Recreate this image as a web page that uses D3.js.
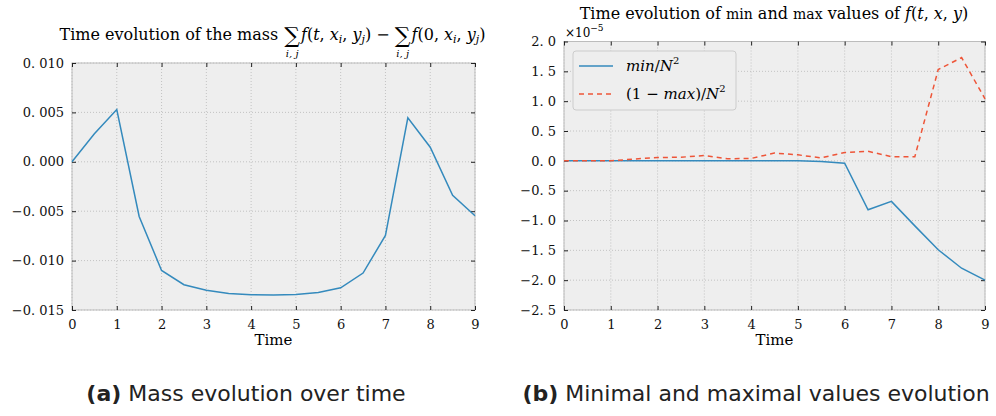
<!DOCTYPE html>
<html>
<head>
<meta charset="utf-8">
<script src="https://cdn.jsdelivr.net/npm/d3@7"></script>
<style>
  body { margin: 0; background: #fff; }
  text { font-family: "DejaVu Serif", serif; white-space: pre; }
</style>
</head>
<body>
<div id="chart"></div>
<script>
// Data
const times = [0, 0.5, 1, 1.5, 2, 2.5, 3, 3.5, 4, 4.5, 5, 5.5, 6, 6.5, 7, 7.5, 8, 8.5, 9];
const massDiff = [0, 0.00283, 0.00529, -0.00553, -0.0110, -0.01244, -0.0130, -0.01332, -0.01345, -0.01349,
    -0.01342, -0.01322, -0.01275, -0.01126, -0.00745, 0.00445, 0.00148, -0.0034, -0.00546];
const minVals = [0, 0, 0, 0, 0, 0, 0, 0, 0, 0, 0, -0.01, -0.04, -0.82, -0.68, -1.09, -1.49, -1.80, -2.0];
const maxVals = [0, 0, 0, 0.03, 0.055, 0.06, 0.09, 0.035, 0.04, 0.13, 0.1, 0.05, 0.14, 0.16, 0.07, 0.07, 1.53, 1.73, 1.04];
const xTicks = [0, 1, 2, 3, 4, 5, 6, 7, 8, 9];
const massTicks = [0.010, 0.005, 0, -0.005, -0.010, -0.015];
const massTickLabels = ["0. 010", "0. 005", "0. 000", "\u22120. 005", "\u22120. 010", "\u22120. 015"];
const mmTicks = [2.0, 1.5, 1.0, 0.5, 0, -0.5, -1.0, -1.5, -2.0, -2.5];
const mmTickLabels = ["2. 0", "1. 5", "1. 0", "0. 5", "0. 0", "\u22120. 5", "\u22121. 0", "\u22121. 5", "\u22122. 0", "\u22122. 5"];

const blue = "#348ABD", red = "#EE5538";
const serif = "DejaVu Serif, serif";

const svg = d3.select("#chart").append("svg")
    .attr("width", 996)
    .attr("height", 416);

// lay out pieces of a math-like title horizontally
function richText(g, x, y, pieces) {
    let cx = x;
    pieces.forEach(p => {
        const t = g.append("text")
            .attr("x", cx)
            .attr("y", y + (p.dy || 0))
            .attr("font-family", serif)
            .style("font-size", (p.size || 16) + "px")
            .style("font-style", p.italic ? "italic" : "normal")
            .text(p.t);
        const w = t.node().getComputedTextLength();
        if (p.under) {
            g.append("text")
                .attr("x", cx + w / 2)
                .attr("y", y + 17)
                .attr("text-anchor", "middle")
                .style("font-size", "10px")
                .style("font-style", "italic")
                .text(p.under);
        }
        cx += w + (p.gap || 0);
    });
    return cx - x;
}

function panel(opts) {
    const g = svg.append("g");
    const x = d3.scaleLinear().domain([0, 9]).range([opts.left, opts.right]);
    const y = d3.scaleLinear().domain(opts.yDomain).range([opts.bottom, opts.top]);

    g.append("rect")
        .attr("x", opts.left).attr("y", opts.top)
        .attr("width", opts.right - opts.left).attr("height", opts.bottom - opts.top)
        .attr("fill", "#eeeeee");

    // dotted grid
    g.append("g").selectAll("line").data(xTicks).enter().append("line")
        .attr("x1", d => x(d)).attr("x2", d => x(d))
        .attr("y1", opts.top).attr("y2", opts.bottom)
        .attr("stroke", "#b8b8b8").attr("stroke-width", 0.8).attr("stroke-dasharray", "1,2");
    g.append("g").selectAll("line").data(opts.yTicks).enter().append("line")
        .attr("x1", opts.left).attr("x2", opts.right)
        .attr("y1", d => y(d)).attr("y2", d => y(d))
        .attr("stroke", "#b8b8b8").attr("stroke-width", 0.8).attr("stroke-dasharray", "1,2");

    // frame
    g.append("rect")
        .attr("x", opts.left).attr("y", opts.top)
        .attr("width", opts.right - opts.left).attr("height", opts.bottom - opts.top)
        .attr("fill", "none").attr("stroke", "#bcbcbc").attr("stroke-width", 1);

    // axes with inward ticks on all sides
    const axB = g.append("g").attr("transform", `translate(0,${opts.bottom})`)
        .call(d3.axisBottom(x).tickValues(xTicks).tickSize(-4).tickPadding(8).tickFormat(d3.format("d")));
    const axT = g.append("g").attr("transform", `translate(0,${opts.top})`)
        .call(d3.axisTop(x).tickValues(xTicks).tickSize(-4).tickFormat(""));
    const axL = g.append("g").attr("transform", `translate(${opts.left},0)`)
        .call(d3.axisLeft(y).tickValues(opts.yTicks).tickSize(-4).tickPadding(8)
            .tickFormat((d, i) => opts.yLabels[i]));
    const axR = g.append("g").attr("transform", `translate(${opts.right},0)`)
        .call(d3.axisRight(y).tickValues(opts.yTicks).tickSize(-4).tickFormat(""));
    [axB, axT, axL, axR].forEach(a => {
        a.attr("font-family", serif).attr("font-size", 13);
        a.select(".domain").remove();
        a.selectAll(".tick line").attr("stroke", "#222").attr("stroke-width", 1);
        a.selectAll(".tick text").attr("font-family", serif)
            .style("font-family", serif).style("font-size", "13px").attr("fill", "#111");
    });
    axB.selectAll(".tick text").attr("dy", "0.85em");

    g.append("text")
        .attr("x", (opts.left + opts.right) / 2)
        .attr("y", 345)
        .attr("text-anchor", "middle")
        .style("font-size", "15px")
        .text("Time");

    const line = d3.line().x((d, i) => x(times[i])).y(d => y(d));
    opts.series.forEach(s => {
        g.append("path")
            .datum(s.values)
            .attr("d", line)
            .attr("fill", "none")
            .attr("stroke", s.color)
            .attr("stroke-width", 1.5)
            .attr("stroke-dasharray", s.dash || null);
    });
    return { g, x, y };
}

// (a) mass
panel({
    left: 72, right: 475, top: 63, bottom: 310,
    yDomain: [-0.015, 0.010], yTicks: massTicks, yLabels: massTickLabels,
    series: [{ values: massDiff, color: blue }]
});

// (b) min / max
panel({
    left: 564, right: 985, top: 41.5, bottom: 310,
    yDomain: [-2.5, 2.0], yTicks: mmTicks, yLabels: mmTickLabels,
    series: [{ values: minVals, color: blue }, { values: maxVals, color: red, dash: "5,4" }]
});

// titles
const tA = svg.append("g");
const wA = richText(tA, 0, 40, [
    { t: "Time evolution of the mass ", gap: 1 },
    { t: "\u2211", size: 22, dy: 3, under: "i, j", gap: 1 },
    { t: "f", italic: true },
    { t: "(" },
    { t: "t", italic: true },
    { t: ", " },
    { t: "x", italic: true },
    { t: "i", italic: true, size: 11, dy: 3 },
    { t: ", " },
    { t: "y", italic: true },
    { t: "j", italic: true, size: 11, dy: 3 },
    { t: ") \u2212 " },
    { t: "\u2211", size: 22, dy: 3, under: "i, j", gap: 1 },
    { t: "f", italic: true },
    { t: "(0, " },
    { t: "x", italic: true },
    { t: "i", italic: true, size: 11, dy: 3 },
    { t: ", " },
    { t: "y", italic: true },
    { t: "j", italic: true, size: 11, dy: 3 },
    { t: ")" }
]);
tA.attr("transform", `translate(${(53 + 492) / 2 - wA / 2},0)`);

const tB = svg.append("g");
const wB = richText(tB, 0, 19, [
    { t: "Time evolution of " },
    { t: "min", size: 14 },
    { t: " and " },
    { t: "max", size: 14 },
    { t: " values of " },
    { t: "f", italic: true },
    { t: "(" },
    { t: "t", italic: true },
    { t: ", " },
    { t: "x", italic: true },
    { t: ", " },
    { t: "y", italic: true },
    { t: ")" }
]);
tB.attr("transform", `translate(${774 - wB / 2},0)`);

// offset text
const off = svg.append("g");
richText(off, 565, 37, [
    { t: "\u00d710", size: 12 },
    { t: "\u22125", size: 9, dy: -6 }
]);

// legend
const lg = svg.append("g");
lg.append("rect")
    .attr("x", 573).attr("y", 51).attr("width", 163).attr("height", 59).attr("rx", 3)
    .attr("fill", "#eeeeee").attr("stroke", "#cccccc").attr("stroke-width", 1);
const legendItems = [
    { color: blue, dash: null, pieces: [{ t: "min", italic: true }, { t: "/" }, { t: "N", italic: true }, { t: "2", size: 10, dy: -7 }] },
    { color: red, dash: "5,4", pieces: [{ t: "(1 \u2212 " }, { t: "max", italic: true }, { t: ")/" }, { t: "N", italic: true }, { t: "2", size: 10, dy: -7 }] }
];
legendItems.forEach((d, i) => {
    const yy = 66 + i * 28;
    lg.append("line")
        .attr("x1", 579).attr("x2", 613).attr("y1", yy).attr("y2", yy)
        .attr("stroke", d.color).attr("stroke-width", 1.5).attr("stroke-dasharray", d.dash);
    richText(lg, 626, yy + 5, d.pieces.map(p => Object.assign({ size: 15 }, p)));
});

// captions
function caption(cx, label, text) {
    const t = svg.append("text")
        .attr("x", cx).attr("y", 401)
        .attr("text-anchor", "middle")
        .attr("font-family", "DejaVu Sans, sans-serif")
        .style("font-family", "'DejaVu Sans', sans-serif")
        .style("font-size", "22px")
        .attr("fill", "#222");
    t.append("tspan").style("font-weight", "bold").text(label);
    t.append("tspan").text(" " + text);
}
caption(246, "(a)", "Mass evolution over time");
caption(756, "(b)", "Minimal and maximal values evolution");
</script>
</body>
</html>
